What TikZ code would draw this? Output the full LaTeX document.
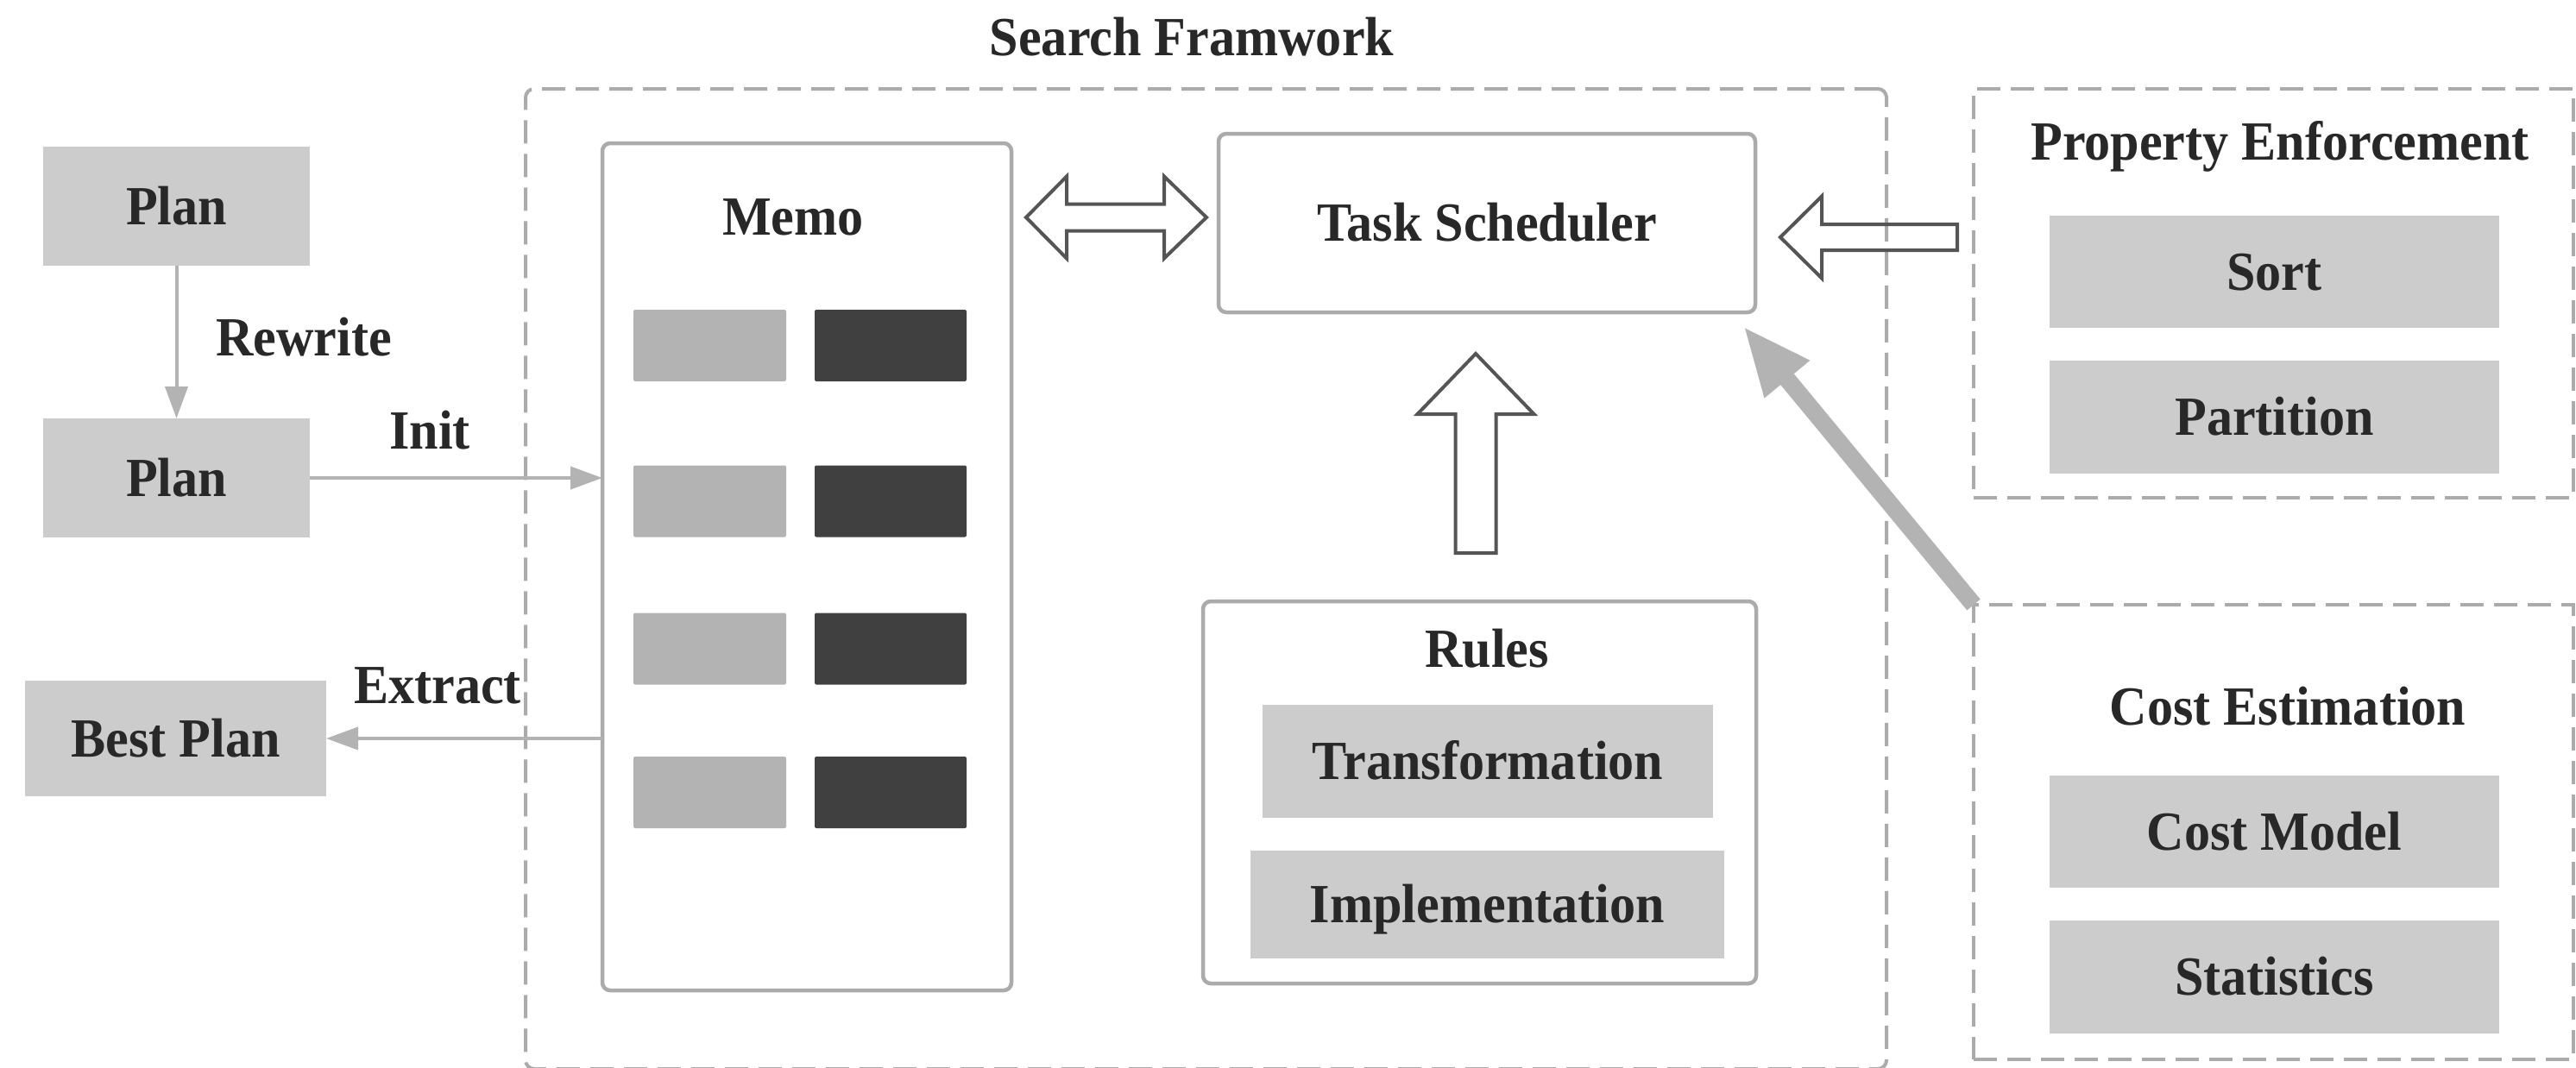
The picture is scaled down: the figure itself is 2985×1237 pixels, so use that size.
\documentclass[tikz,border=0pt]{standalone}
\usepackage{fontspec}
\setmainfont{Liberation Serif}[FakeStretch=0.94]
\usetikzlibrary{arrows.meta,calc}

\definecolor{boxgray}{HTML}{CCCCCC}
\definecolor{cellgray}{HTML}{B3B3B3}
\definecolor{celldark}{HTML}{404040}
\definecolor{framegray}{HTML}{ABABAB}
\definecolor{arrowgray}{HTML}{B3B3B3}
\definecolor{outlinedark}{HTML}{555555}
\definecolor{inkdark}{HTML}{282828}

\begin{document}
\begin{tikzpicture}[x=1pt,y=-1pt,
  every node/.style={outer sep=0pt, inner sep=0pt},
  txt/.style={font=\fontsize{64pt}{70pt}\selectfont\bfseries, text=inkdark,
              text height=42pt, text depth=0pt},
  fillbox/.style={txt, fill=boxgray},
  roundbox/.style={draw=framegray, line width=4.5pt, rounded corners=9pt},
  dashbox/.style={draw=framegray, line width=4pt, dash pattern=on 27pt off 12pt},
  cellL/.style={fill=cellgray, rounded corners=2pt, minimum width=177pt, minimum height=83pt},
  cellD/.style={fill=celldark, rounded corners=2pt, minimum width=176pt, minimum height=83pt},
  conn/.style={draw=arrowgray, line width=4pt, -{Triangle[length=37pt,width=26pt]}},
  hollow/.style={draw=outlinedark, line width=4pt, line join=miter},
]
\useasboundingbox[fill=white] (0,0) rectangle (2985,1237);

% search framework frame
\node[dashbox, rounded corners=10pt, minimum width=1577pt, minimum height=1136pt] (sf) at (1397.5,671) {};
\node[txt] (sftitle) at (1381,43) {Search Framwork};

% plans on the left
\node[fillbox, minimum width=309pt, minimum height=138pt] (plan1) at (204.5,239) {Plan};
\node[fillbox, minimum width=309pt, minimum height=138pt] (plan2) at (204.5,554) {Plan};
\node[fillbox, minimum width=349pt, minimum height=134pt] (best) at (203.5,856) {Best Plan};

% memo
\node[roundbox, minimum width=474pt, minimum height=982pt] (memo) at (935,657) {};
\node[txt] (memotitle) at (919,251) {Memo};
\foreach \y [count=\i] in {400.5,581,752,918.5} {
  \node[cellL] (ml\i) at (822.5,\y) {};
  \node[cellD] (md\i) at (1032,\y) {};
}

% task scheduler
\node[roundbox, txt, minimum width=622pt, minimum height=207pt] (ts) at (1723,258.5) {Task Scheduler};

% rules
\node[roundbox, minimum width=641pt, minimum height=443pt] (rules) at (1714.5,918.5) {};
\node[txt] (rulestitle) at (1723,752) {Rules};
\node[fillbox, minimum width=522pt, minimum height=131pt] (trans) at (1724,882.5) {Transformation};
\node[fillbox, minimum width=549pt, minimum height=125pt] (impl) at (1723.5,1048.5) {Implementation};

% property enforcement
\node[dashbox, minimum width=695pt, minimum height=474pt] (pe) at (2634.5,340) {};
\node[txt] (petitle) at (2642,164) {Property Enforcement};
\node[fillbox, minimum width=521pt, minimum height=130pt] (sort) at (2635.5,315) {Sort};
\node[fillbox, minimum width=521pt, minimum height=131pt] (part) at (2635.5,483.5) {Partition};

% cost estimation
\node[dashbox, minimum width=695pt, minimum height=527pt] (ce) at (2634.5,964.5) {};
\node[txt] (cetitle) at (2651,819) {Cost Estimation};
\node[fillbox, minimum width=521pt, minimum height=130pt] (cm) at (2635.5,964) {Cost Model};
\node[fillbox, minimum width=521pt, minimum height=131pt] (stat) at (2635.5,1132.5) {Statistics};

% thin connectors
\draw[conn] (plan1) -- (plan2);
\node[txt] (rwlabel) at (352,391) {Rewrite};
\draw[conn] (plan2.east) -- (plan2.east -| memo.west);
\node[txt] (initlabel) at (498,499) {Init};
\draw[conn] (best.east -| memo.west) -- (best.east);
\node[txt] (exlabel) at (507,794) {Extract};

% cost estimation feeds the scheduler
\coordinate (costtip) at (2020,378);
\draw[line width=20pt, draw=arrowgray, -{Triangle[length=80pt,width=62pt]}] (ce.north west) -- (costtip);

% hollow block arrows
\coordinate (dbltip) at (1189,252);
\draw[hollow] (dbltip) -- ++(47,-47.5) -- ++(0,32) -- ++(113,0) -- ++(0,-32) -- ++(49,47.5)
  -- ++(-49,47.5) -- ++(0,-32) -- ++(-113,0) -- ++(0,32) -- cycle;

\coordinate (uptip) at (1710,410);
\draw[hollow] (uptip) -- ++(67.5,70) -- ++(-44,0) -- ++(0,161) -- ++(-47,0) -- ++(0,-161)
  -- ++(-44,0) -- cycle;

\coordinate (lefttip) at (2063,275);
\draw[hollow] (lefttip) -- ++(48,-47.5) -- ++(0,32.5) -- ++(157,0) -- ++(0,30) -- ++(-157,0)
  -- ++(0,32.5) -- cycle;
\end{tikzpicture}
\end{document}
